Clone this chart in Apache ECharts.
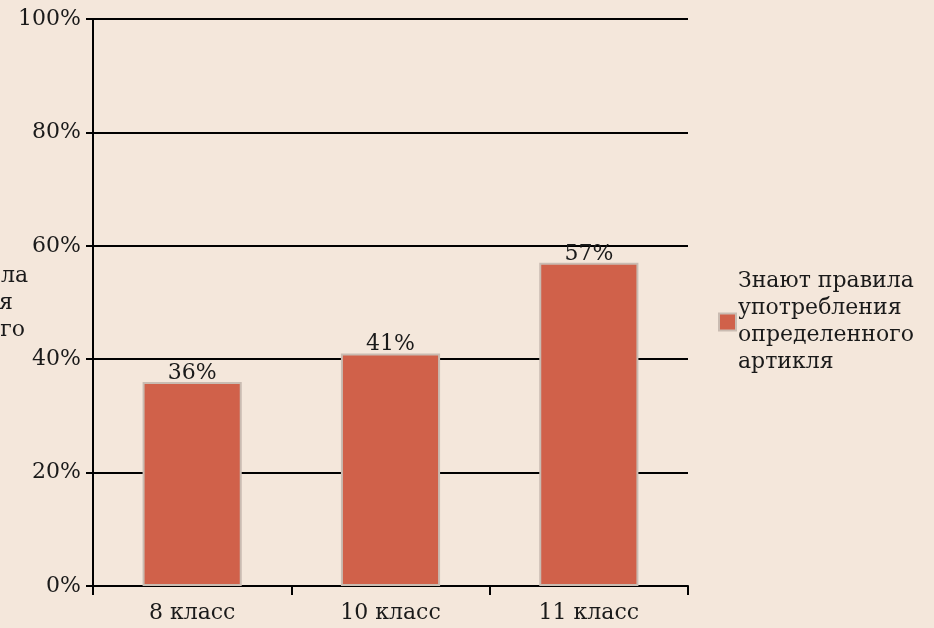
<!DOCTYPE html>
<html>
<head>
<meta charset="utf-8">
<script src="https://cdn.jsdelivr.net/npm/echarts@6/dist/echarts.min.js"></script>
<style>
  html, body { margin: 0; padding: 0; background: #f4e7db; }
  #chart { width: 934px; height: 628px; }
</style>
</head>
<body>
<div id="chart"></div>
<script>
// данные диаграммы
var categories = ['8 класс', '10 класс', '11 класс'];
var values = [36, 41, 57];
var seriesName = 'Знают правила\nупотребления\nопределенного\nартикля';
var ghostLines = ['Знают правила', 'употребления', 'определенного'];

var FONT = 'DejaVu Serif';
var FS = 22;
var chart = echarts.init(document.getElementById('chart'));

chart.setOption({
  backgroundColor: '#f4e7db',
  textStyle: { fontFamily: FONT },
  animation: false,
  grid: { left: 93, right: 246, top: 19, bottom: 42 },
  legend: {
    left: 713,
    top: 263,
    orient: 'vertical',
    itemWidth: 17,
    itemHeight: 17,
    itemGap: 4,
    icon: 'rect',
    textStyle: { fontFamily: FONT, fontSize: FS, color: '#1a1a1a', lineHeight: 27, padding: [0, 0, 0, -3] },
    data: [seriesName]
  },
  // обрезанный текст у левого края
  graphic: ghostLines.map(function (t, i) {
    var rights = [28, 13, 25];
    return {
      type: 'text',
      right: 934 - rights[i],
      top: 265 + i * 27,
      style: { text: t, fontFamily: FONT, fontSize: FS, fill: '#1a1a1a', textAlign: 'right' }
    };
  }),
  xAxis: {
    type: 'category',
    data: categories,
    axisLine: { lineStyle: { color: '#000', width: 2 } },
    axisTick: { show: true, length: 9, lineStyle: { color: '#000', width: 2 } },
    axisLabel: { fontFamily: FONT, fontSize: FS, color: '#1a1a1a', margin: 16 }
  },
  yAxis: {
    type: 'value',
    min: 0,
    max: 100,
    interval: 20,
    axisLine: { show: true, lineStyle: { color: '#000', width: 2 } },
    axisTick: { show: true, length: 7, lineStyle: { color: '#000', width: 2 } },
    axisLabel: { fontFamily: FONT, fontSize: FS, color: '#1a1a1a', margin: 12, formatter: '{value}%' },
    splitLine: { lineStyle: { color: '#000', width: 2 } }
  },
  series: [{
    name: seriesName,
    type: 'bar',
    barWidth: '50%',
    data: values,
    itemStyle: { color: '#d0614a', borderColor: '#c9bcb2', borderWidth: 2 },
    label: {
      show: true,
      position: 'top',
      distance: -2,
      formatter: '{c}%',
      fontFamily: FONT,
      fontSize: FS,
      color: '#1a1a1a'
    }
  }]
});
</script>
</body>
</html>
